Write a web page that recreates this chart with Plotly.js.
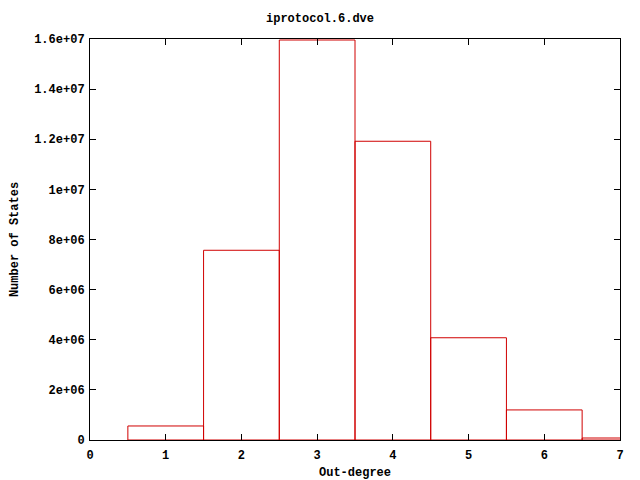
<!DOCTYPE html>
<html>
<head>
<meta charset="utf-8">
<script src="https://cdn.plot.ly/plotly-3.0.1.min.js"></script>
<style>html,body{margin:0;padding:0;background:#fff;}#chart{width:640px;height:480px;}</style>
</head>
<body>
<div id="chart"></div>
<script>
const outDegree = [1, 2, 3, 4, 5, 6, 7];
const numStates = [560000, 7570000, 15960000, 11920000, 4080000, 1200000, 80000];
const yTickVals = [0, 2e6, 4e6, 6e6, 8e6, 1e7, 1.2e7, 1.4e7, 1.6e7];
const yTickText = ["0", "2e+06", "4e+06", "6e+06", "8e+06", "1e+07", "1.2e+07", "1.4e+07", "1.6e+07"];
const xTickVals = [0, 1, 2, 3, 4, 5, 6, 7];

const font = {family: "Liberation Mono, DejaVu Sans Mono, monospace", size: 12, color: "#000"};

const trace = {
  type: "bar",
  x: outDegree,
  y: numStates,
  width: 1,
  marker: {color: "rgba(0,0,0,0)", line: {color: "#d00000", width: 1}},
  hoverinfo: "x+y"
};

const layout = {
  width: 640, height: 480,
  margin: {l: 90, r: 20, t: 39, b: 40},
  paper_bgcolor: "#fff", plot_bgcolor: "#fff",
  font: font,
  showlegend: false,
  title: {text: "<b>iprotocol.6.dve</b>", font: font, x: 0.5, xanchor: "center", y: 0.962, yanchor: "middle"},
  xaxis: {
    range: [0, 7], tickvals: xTickVals, ticks: "inside", ticklen: 6, tickcolor: "#000",
    showline: true, linecolor: "#000", linewidth: 1, mirror: "ticks", showgrid: false, zeroline: false,
    tickfont: font, ticklabelstandoff: 4, title: {text: "<b>Out-degree</b>", font: font, standoff: 8}
  },
  yaxis: {
    range: [0, 1.6e7], tickvals: yTickVals, ticktext: yTickText, ticks: "inside", ticklen: 6, tickcolor: "#000",
    showline: true, linecolor: "#000", linewidth: 1, mirror: "ticks", showgrid: false, zeroline: false,
    tickfont: font, ticklabelstandoff: 2, title: {text: "<b>Number of States</b>", font: font, standoff: 12}
  }
};

layout.xaxis.ticktext = xTickVals.map(v => "<b>" + v + "</b>");
layout.yaxis.ticktext = yTickText.map(t => "<b>" + t + "</b>");

Plotly.newPlot("chart", [trace], layout, {staticPlot: true, displayModeBar: false});
</script>
</body>
</html>
